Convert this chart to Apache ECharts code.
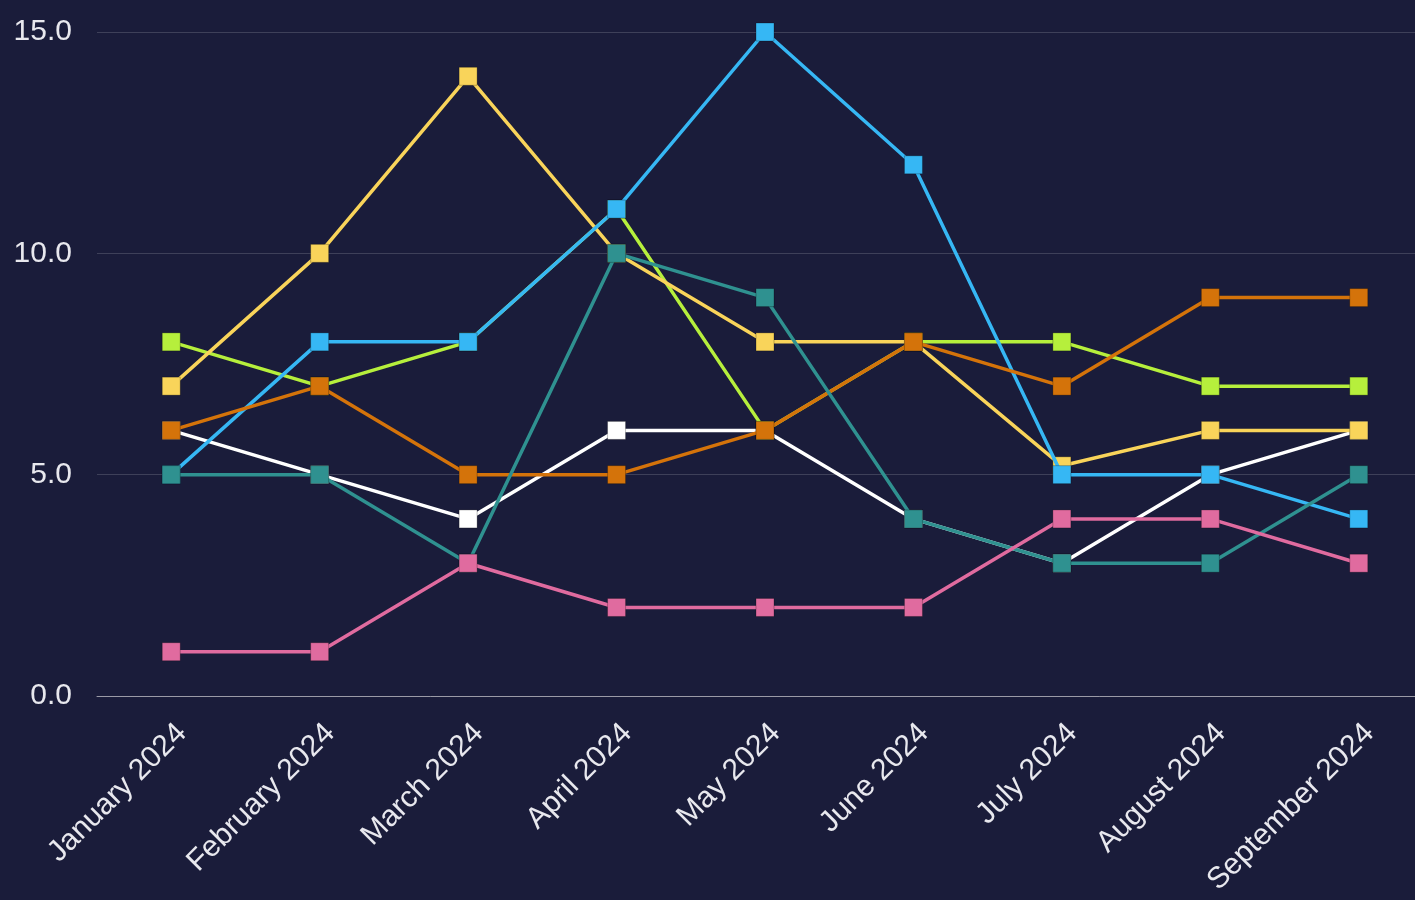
<!DOCTYPE html>
<html>
<head>
<meta charset="utf-8">
<title>Monthly values</title>
<script src="https://cdn.jsdelivr.net/npm/echarts@6/dist/echarts.min.js"></script>
<style>
  html, body { margin: 0; padding: 0; background: #1a1c3a; overflow: hidden; }
  /* a bit wider than the window: the last column is cut off on the right */
  #chart { width: 1433px; height: 900px; }
</style>
</head>
<body>
<div id="chart"></div>
<script>
// months on the x axis
var months = ['January 2024', 'February 2024', 'March 2024', 'April 2024', 'May 2024',
  'June 2024', 'July 2024', 'August 2024', 'September 2024'];

// one array per line, drawn bottom to top
var whiteVals  = [6, 5, 4, 6, 6, 4, 3, 5, 6];
var limeVals   = [8, 7, 8, 11, 6, 8, 8, 7, 7];
var yellowVals = [7, 10, 14, 10, 8, 8, 5.2, 6, 6];
var blueVals   = [5, 8, 8, 11, 15, 12, 5, 5, 4];
var orangeVals = [6, 7, 5, 5, 6, 8, 7, 9, 9];
var tealVals   = [5, 5, 3, 10, 9, 4, 3, 3, 5];
var pinkVals   = [1, 1, 3, 2, 2, 2, 4, 4, 3];

var seriesNames = ['White', 'Lime', 'Yellow', 'Blue', 'Orange', 'Teal', 'Pink'];
var seriesColors = ['#ffffff', '#b6ef3c', '#f9d45a', '#36b7f4', '#d4730a', '#2f9190', '#e06b9f'];
var seriesData = [whiteVals, limeVals, yellowVals, blueVals, orangeVals, tealVals, pinkVals];

var labelFont = '"Liberation Sans", Arial, sans-serif';

var myChart = echarts.init(document.getElementById('chart'));

var series = [];
for (var i = 0; i < seriesData.length; i++) {
  series.push({
    name: seriesNames[i],
    type: 'line',
    data: seriesData[i],
    symbol: 'rect',
    symbolSize: 18,
    z: 2 + i,
    lineStyle: { width: 3.5, color: seriesColors[i] },
    itemStyle: { color: seriesColors[i], borderColor: 'rgba(0,0,0,0.25)', borderWidth: 1 },
    emphasis: { disabled: true }
  });
}

var option = {
  backgroundColor: '#1a1c3a',
  animation: false,
  grid: { left: 97, right: 0, top: 32, bottom: 204, containLabel: false },
  xAxis: {
    type: 'category',
    data: months,
    boundaryGap: true,
    axisLine: { lineStyle: { color: '#9a9aa6', width: 1 } },
    axisTick: { show: false },
    axisLabel: {
      rotate: 45,
      margin: 22,
      verticalAlign: 'top',
      color: '#e8e8ee',
      fontSize: 30,
      fontFamily: labelFont,
      interval: 0
    },
    splitLine: { show: false }
  },
  yAxis: {
    type: 'value',
    min: 0,
    max: 15,
    interval: 5,
    axisLine: { show: false },
    axisTick: { show: false },
    axisLabel: {
      color: '#e8e8ee',
      fontSize: 30,
      fontFamily: labelFont,
      margin: 25,
      formatter: function (v) { return v.toFixed(1); }
    },
    splitLine: { lineStyle: { color: 'rgba(255,255,255,0.16)', width: 1 } }
  },
  series: series
};

myChart.setOption(option);
</script>
</body>
</html>
